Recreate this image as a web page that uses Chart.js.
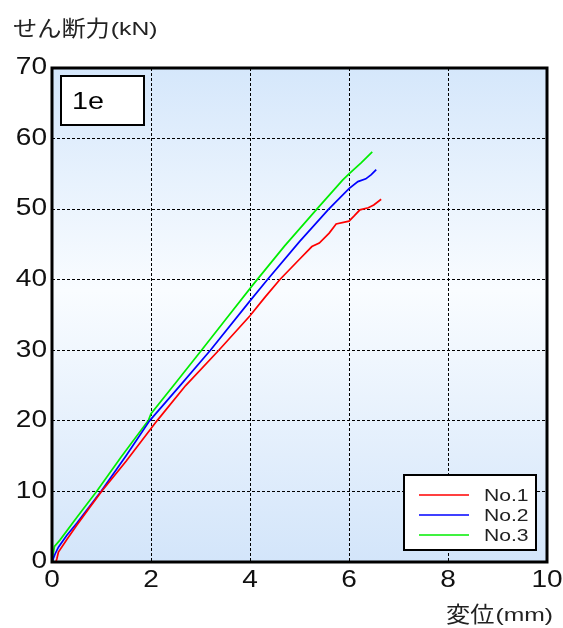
<!DOCTYPE html>
<html>
<head>
<meta charset="utf-8">
<script src="https://cdn.jsdelivr.net/npm/chart.js@4.4.1/dist/chart.umd.min.js"></script>
<style>
  html, body { margin: 0; padding: 0; background: #ffffff; }
  #wrap { width: 563px; height: 628px; position: relative; }
</style>
</head>
<body>
<div id="wrap"><canvas id="shear"></canvas></div>
<script>
// displacement (mm) / shear force (kN) for each specimen
const no1X = [0.08, 0.1, 0.13, 0.3, 0.5, 0.75, 1.0, 1.5, 2.12, 2.7, 3.37, 4.0, 4.3, 4.6, 5.0, 5.25, 5.4, 5.6, 5.74, 6.0, 6.1, 6.22, 6.39, 6.5, 6.65];
const no1Y = [0.0, 0.5, 1.4, 3.2, 5.2, 7.6, 10.0, 14.3, 20.0, 25.0, 30.0, 34.9, 37.5, 40.0, 42.9, 44.7, 45.2, 46.6, 47.9, 48.3, 49.0, 49.9, 50.2, 50.6, 51.4];

const no2X = [0.0, 0.06, 0.13, 0.3, 0.5, 0.75, 1.0, 1.5, 1.97, 2.6, 3.2, 4.0, 4.35, 5.0, 5.59, 6.0, 6.18, 6.34, 6.45, 6.55];
const no2Y = [0.0, 1.1, 2.1, 3.8, 5.5, 7.8, 10.1, 15.1, 20.0, 25.1, 30.0, 37.0, 40.0, 45.4, 50.0, 52.9, 53.9, 54.3, 54.9, 55.6];

const no3X = [0.0, 0.02, 0.05, 0.16, 0.5, 0.9, 1.4, 1.95, 2.0, 2.5, 3.02, 3.5, 4.05, 4.7, 5.35, 5.87, 6.0, 6.25, 6.47];
const no3Y = [0.0, 1.0, 2.2, 3.1, 6.3, 10.0, 14.9, 20.1, 21.0, 25.4, 30.0, 34.3, 39.2, 44.8, 50.0, 54.1, 55.0, 56.6, 58.1];

const seriesNames = ['No.1', 'No.2', 'No.3'];
const seriesColors = ['#ff0000', '#0000ff', '#00ee00'];
const xTicks = [0, 2, 4, 6, 8, 10];
const yTicks = [0, 10, 20, 30, 40, 50, 60, 70];
const specimenLabel = '1e';
const yTitle = ['せん断力', '(kN)'];
const xTitle = ['変位', '(mm)'];

const latin = '"Liberation Sans", Arial, sans-serif';
const cjk = '"Noto Sans CJK JP", "Liberation Sans", sans-serif';

const toPoints = (xs, ys) => xs.map((x, i) => ({ x: x, y: ys[i] }));

// text with a horizontal stretch; align is applied after stretching
function wideText(ctx, str, x, y, font, sx, align) {
  ctx.save();
  ctx.font = font;
  const w = ctx.measureText(str).width * sx;
  let left = x;
  if (align === 'right') left = x - w;
  else if (align === 'center') left = x - w / 2;
  ctx.translate(left, y);
  ctx.scale(sx, 1);
  ctx.textAlign = 'left';
  ctx.fillText(str, 0, 0);
  ctx.restore();
  return w;
}

// gradient fill, frame, tick labels, label box, legend and axis titles
const decorations = {
  id: 'decorations',
  beforeDraw(chart) {
    const { ctx, chartArea: a } = chart;
    const g = ctx.createLinearGradient(0, a.top, 0, a.bottom);
    g.addColorStop(0, '#d5e7fb');
    g.addColorStop(0.45, '#f9fcff');
    g.addColorStop(1, '#d3e5fa');
    ctx.save();
    ctx.fillStyle = g;
    ctx.fillRect(a.left, a.top, a.right - a.left, a.bottom - a.top);
    ctx.restore();
  },
  afterDraw(chart) {
    const { ctx, chartArea: a } = chart;
    const xs = chart.scales.x, ys = chart.scales.y;
    ctx.save();
    // plot frame
    ctx.strokeStyle = '#000';
    ctx.lineWidth = 3;
    ctx.strokeRect(a.left, a.top, a.right - a.left, a.bottom - a.top);

    // tick labels
    ctx.fillStyle = '#111';
    ctx.textBaseline = 'middle';
    const tickFont = '23px ' + latin;
    xs.ticks.forEach(t => {
      wideText(ctx, String(t.value), xs.getPixelForValue(t.value), a.bottom + 19, tickFont, 1.22, 'center');
    });
    ys.ticks.forEach(t => {
      wideText(ctx, String(t.value), a.left - 5, ys.getPixelForValue(t.value), tickFont, 1.22, 'right');
    });

    // specimen label box
    ctx.fillStyle = '#fff';
    ctx.fillRect(61, 76, 83, 49);
    ctx.lineWidth = 2;
    ctx.strokeRect(61, 76, 83, 49);
    ctx.fillStyle = '#000';
    wideText(ctx, specimenLabel, 72, 103, '23px ' + latin, 1.25, 'left');

    // legend
    ctx.fillStyle = '#fff';
    ctx.fillRect(404, 475, 132, 75);
    ctx.strokeRect(404, 475, 132, 75);
    seriesNames.forEach((name, i) => {
      const y = 495 + i * 20;
      ctx.strokeStyle = seriesColors[i];
      ctx.lineWidth = 1.6;
      ctx.beginPath();
      ctx.moveTo(419, y);
      ctx.lineTo(469, y);
      ctx.stroke();
      ctx.fillStyle = '#222';
      wideText(ctx, name, 484, y + 1, '16.5px ' + latin, 1.28, 'left');
    });

    // axis titles
    ctx.fillStyle = '#222';
    ctx.textBaseline = 'alphabetic';
    let w = wideText(ctx, yTitle[0], 13, 36, '22px ' + cjk, 1.1, 'left');
    wideText(ctx, yTitle[1], 13 + w + 1, 35, '19px ' + latin, 1.3, 'left');
    w = wideText(ctx, xTitle[0], 446, 622, '22px ' + cjk, 1.1, 'left');
    wideText(ctx, xTitle[1], 446 + w + 1, 621, '19px ' + latin, 1.3, 'left');
    ctx.restore();
  }
};

new Chart(document.getElementById('shear'), {
  type: 'scatter',
  data: {
    datasets: seriesNames.map((name, i) => ({
      label: name,
      data: toPoints([no1X, no2X, no3X][i], [no1Y, no2Y, no3Y][i]),
      borderColor: seriesColors[i],
      borderWidth: 1.7,
      showLine: true,
      pointRadius: 0,
      tension: 0,
      fill: false
    }))
  },
  options: {
    responsive: true,
    maintainAspectRatio: false,
    animation: false,
    events: [],
    layout: { padding: { top: 68, right: 16, left: 0, bottom: 0 } },
    plugins: {
      legend: { display: false },
      tooltip: { enabled: false }
    },
    scales: {
      x: {
        type: 'linear',
        min: 0,
        max: 10,
        afterBuildTicks(scale) { scale.ticks = xTicks.map(v => ({ value: v })); },
        afterFit(scale) { scale.height = 66; },
        border: { display: false, dash: [3, 2] },
        grid: { color: '#000', lineWidth: 1, drawTicks: false },
        ticks: { display: false }
      },
      y: {
        type: 'linear',
        min: 0,
        max: 70,
        afterBuildTicks(scale) { scale.ticks = yTicks.map(v => ({ value: v })); },
        afterFit(scale) { scale.width = 52; },
        border: { display: false, dash: [3, 2] },
        grid: { color: '#000', lineWidth: 1, drawTicks: false },
        ticks: { display: false }
      }
    }
  },
  plugins: [decorations]
});
</script>
</body>
</html>
